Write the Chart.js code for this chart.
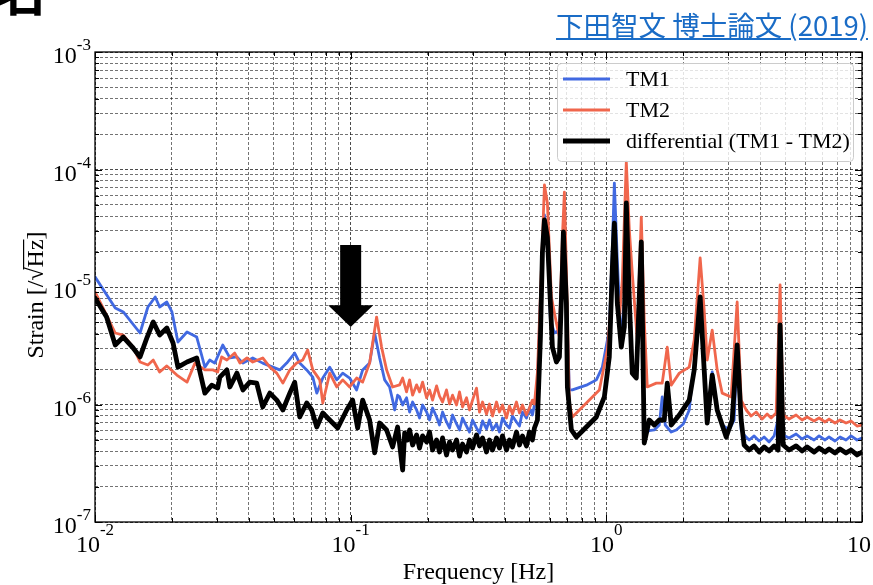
<!DOCTYPE html>
<html>
<head>
<meta charset="utf-8">
<script src="https://cdn.jsdelivr.net/npm/chart.js@4.4.1/dist/chart.umd.min.js"></script>
<style>
  html, body { margin: 0; padding: 0; background: #fff; }
  #wrap { position: relative; width: 873px; height: 585px; overflow: hidden; }
  #myChart { position: absolute; left: 0; top: 0; }
  #frag { position: absolute; left: -6px; top: -37px; font-family: "Noto Sans CJK JP"; font-size: 52px; font-weight: bold; line-height: 1; }
  #ref { position: absolute; right: 5px; top: 4px; font-family: "Noto Sans CJK JP"; font-size: 27.5px; color: #1a6cc6; text-decoration: underline; white-space: nowrap; }
</style>
</head>
<body>
<div id="wrap">
  <canvas id="myChart" width="873" height="585"></canvas>
  <div id="frag">名</div>
  <span id="ref">下田智文 博士論文 (2019)</span>
</div>
<script>
// [frequency Hz, strain 1/sqrt(Hz)]
const tm1Data = [
  [0.0100,1.22e-5],[0.0120,6.63e-6],[0.0129,6.13e-6],[0.0150,4.06e-6],[0.0161,6.76e-6],[0.0172,8.22e-6],
  [0.0179,6.76e-6],[0.0191,7.45e-6],[0.0200,6.13e-6],[0.0211,3.40e-6],[0.0229,4.14e-6],[0.0250,3.75e-6],
  [0.0269,2.08e-6],[0.0281,2.39e-6],[0.0294,2.25e-6],[0.0316,3.21e-6],[0.0337,2.49e-6],[0.0359,2.54e-6],
  [0.0379,2.25e-6],[0.0414,2.49e-6],[0.0453,2.25e-6],[0.0496,2.08e-6],[0.0528,1.97e-6],[0.0562,2.25e-6],
  [0.0604,2.74e-6],[0.0632,2.25e-6],[0.0673,1.97e-6],[0.0711,1.71e-6],[0.0737,1.25e-6],[0.0778,1.68e-6],
  [0.0828,2.08e-6],[0.0882,1.62e-6],[0.0931,1.85e-6],[0.0991,1.68e-6],[0.1055,1.33e-6],[0.1114,1.97e-6],
  [0.1186,2.25e-6],[0.1241,4.06e-6],[0.1298,2.49e-6],[0.1358,1.62e-6],[0.1420,1.41e-6],[0.1459,1.09e-6],
  [0.1486,8.98e-7],[0.1526,1.20e-6],[0.1554,1.16e-6],[0.1597,9.90e-7],[0.1654,1.14e-6],[0.1700,8.63e-7],
  [0.1747,1.05e-6],[0.1811,8.98e-7],[0.1860,7.67e-7],[0.1911,9.90e-7],[0.1982,8.63e-7],[0.2035,7.38e-7],
  [0.2091,9.34e-7],[0.2168,7.83e-7],[0.2226,6.69e-7],[0.2288,8.63e-7],[0.2371,7.10e-7],[0.2436,6.31e-7],
  [0.2503,8.14e-7],[0.2595,6.83e-7],[0.2666,6.07e-7],[0.2739,7.67e-7],[0.2839,6.56e-7],[0.2917,5.83e-7],
  [0.2997,7.38e-7],[0.3106,6.31e-7],[0.3191,5.72e-7],[0.3279,7.24e-7],[0.3399,6.19e-7],[0.3491,7.38e-7],
  [0.3587,6.07e-7],[0.3719,6.83e-7],[0.3819,5.83e-7],[0.3925,7.67e-7],[0.4069,6.69e-7],[0.4179,6.31e-7],
  [0.4294,7.98e-7],[0.4452,7.10e-7],[0.4573,6.56e-7],[0.4698,8.63e-7],[0.4870,7.67e-7],[0.5004,9.34e-7],
  [0.5140,8.14e-7],[0.5233,9.90e-7],[0.5377,1.52e-6],[0.5524,7.75e-6],[0.5727,4.10e-5],
  [0.5882,2.51e-5],[0.6043,5.24e-6],[0.6265,4.06e-6],[0.6553,4.30e-6],[0.6732,1.70e-5],[0.6854,3.06e-5],
  [0.6979,7.75e-6],[0.7170,1.33e-6],[0.7366,1.33e-6],[0.8354,1.46e-6],[0.9141,1.62e-6],[0.9647,2.08e-6],
  [1.027,4.30e-6],[1.055,2.07e-5],[1.075,7.67e-5],[1.104,1.70e-5],[1.144,3.21e-6],[1.176,7.75e-6],
  [1.197,4.10e-5],[1.230,7.75e-6],[1.263,1.97e-6],[1.310,1.68e-6],[1.370,2.07e-5],[1.407,5.50e-7],
  [1.472,6.00e-7],[1.540,6.07e-7],[1.611,6.69e-7],[1.654,1.16e-6],[1.700,6.69e-7],[1.794,5.83e-7],
  [1.877,6.07e-7],[2.000,6.82e-7],[2.110,8.98e-7],[2.168,1.62e-6],[2.247,2.91e-6],[2.328,7.75e-6],
  [2.414,2.39e-6],[2.481,7.38e-7],[2.595,1.89e-6],[2.714,8.98e-7],[2.839,6.69e-7],[3.023,6.07e-7],
  [3.162,7.38e-7],[3.249,2.91e-6],[3.368,6.07e-7],[3.459,5.50e-7],[3.620,4.99e-7],[3.786,5.40e-7],
  [3.961,4.89e-7],[4.142,5.29e-7],[4.332,4.80e-7],[4.532,5.40e-7],[4.656,6.96e-7],[4.783,1.09e-6],
  [4.914,5.50e-7],[5.186,5.19e-7],[5.524,5.61e-7],[5.831,5.09e-7],[6.098,5.40e-7],[6.494,4.99e-7],
  [6.792,5.40e-7],[7.170,4.99e-7],[7.433,5.29e-7],[7.844,4.89e-7],[8.206,5.29e-7],[8.660,4.99e-7],
  [9.060,5.40e-7],[9.561,4.99e-7],[10.0,5.19e-7]
];

const tm2Data = [
  [0.0100,9.07e-6],[0.01075,6.63e-6],[0.0120,4.06e-6],[0.0129,3.90e-6],[0.0141,3.08e-6],[0.0150,2.30e-6],
  [0.0161,2.17e-6],[0.0169,2.39e-6],[0.0179,1.89e-6],[0.0191,2.13e-6],[0.0209,1.78e-6],[0.0229,1.55e-6],
  [0.0246,2.25e-6],[0.0269,1.97e-6],[0.0289,1.97e-6],[0.0302,1.89e-6],[0.0313,2.54e-6],[0.0328,2.39e-6],
  [0.0352,2.74e-6],[0.0369,2.25e-6],[0.0393,2.49e-6],[0.0414,2.30e-6],[0.0453,2.49e-6],[0.0483,2.08e-6],
  [0.0514,1.85e-6],[0.0543,1.52e-6],[0.0578,1.97e-6],[0.0615,2.25e-6],[0.0649,2.39e-6],[0.0679,2.91e-6],
  [0.0711,1.97e-6],[0.0757,1.62e-6],[0.0778,1.03e-6],[0.0828,1.85e-6],[0.0882,1.41e-6],[0.0931,1.62e-6],
  [0.0991,1.41e-6],[0.1055,1.68e-6],[0.1114,1.55e-6],[0.1186,2.25e-6],[0.1263,5.55e-6],[0.1321,3.08e-6],
  [0.1382,1.97e-6],[0.1459,1.41e-6],[0.1554,1.47e-6],[0.1597,1.68e-6],[0.1654,1.28e-6],[0.1700,1.62e-6],
  [0.1747,1.20e-6],[0.1811,1.47e-6],[0.1860,1.28e-6],[0.1911,1.55e-6],[0.1982,1.14e-6],[0.2035,1.33e-6],
  [0.2091,1.09e-6],[0.2168,1.44e-6],[0.2226,1.18e-6],[0.2288,1.05e-6],[0.2371,1.33e-6],[0.2436,1.01e-6],
  [0.2503,1.20e-6],[0.2595,9.90e-7],[0.2666,1.28e-6],[0.2739,9.52e-7],[0.2839,1.14e-6],[0.2917,8.98e-7],
  [0.2997,1.09e-6],[0.3106,1.38e-6],[0.3191,8.63e-7],[0.3279,1.05e-6],[0.3399,8.30e-7],[0.3491,1.01e-6],
  [0.3587,7.98e-7],[0.3719,1.05e-6],[0.3819,8.63e-7],[0.3925,9.90e-7],[0.4069,7.67e-7],[0.4179,9.71e-7],
  [0.4294,8.30e-7],[0.4452,1.05e-6],[0.4573,8.47e-7],[0.4698,9.90e-7],[0.4870,8.14e-7],[0.5004,9.34e-7],
  [0.5140,1.09e-6],[0.5233,1.01e-6],[0.5377,1.89e-6],
  [0.5572,1.40e-5],[0.5727,7.38e-5],[0.5882,5.19e-5],[0.6098,8.22e-6],[0.6378,4.94e-6],[0.6553,3.75e-6],
  [0.6732,2.66e-5],[0.6854,6.43e-5],[0.6979,1.40e-5],[0.7170,1.03e-6],[0.7366,7.83e-7],[0.8354,1.03e-6],
  [0.9390,1.33e-6],[1.009,2.91e-6],[1.046,7.75e-6],[1.075,2.51e-5],[1.124,5.24e-6],[1.155,1.15e-5],
  [1.197,1.16e-4],[1.230,3.06e-5],[1.263,1.32e-5],[1.321,3.54e-6],[1.370,3.94e-5],[1.407,5.24e-6],
  [1.446,1.41e-6],[1.568,1.52e-6],[1.654,1.52e-6],[1.731,3.08e-6],[1.794,1.46e-6],[1.929,1.85e-6],
  [2.110,2.08e-6],[2.207,3.54e-6],[2.328,1.77e-5],[2.414,6.37e-6],[2.481,2.39e-6],[2.595,4.30e-6],
  [2.714,1.97e-6],[2.839,1.25e-6],[3.078,1.16e-6],[3.249,7.45e-6],[3.368,1.09e-6],[3.523,8.98e-7],
  [3.685,7.98e-7],[3.855,8.63e-7],[4.069,7.52e-7],[4.255,8.30e-7],[4.412,7.67e-7],[4.615,8.47e-7],
  [4.783,1.04e-5],[4.914,8.14e-7],[5.186,7.52e-7],[5.524,8.14e-7],[5.831,7.38e-7],[6.098,7.83e-7],
  [6.494,7.24e-7],[6.792,7.67e-7],[7.170,7.10e-7],[7.433,7.52e-7],[7.844,6.96e-7],[8.206,7.38e-7],
  [8.660,6.96e-7],[9.060,7.24e-7],[9.561,6.56e-7],[10.0,6.69e-7]
];

const diffData = [
  [0.0100,8.06e-6],[0.0111,5.55e-6],[0.0120,3.21e-6],[0.0129,3.75e-6],[0.0140,3.08e-6],[0.0150,2.54e-6],
  [0.0160,3.75e-6],[0.0169,5.04e-6],[0.0179,3.90e-6],[0.0191,4.48e-6],[0.0202,3.34e-6],[0.0211,2.08e-6],
  [0.0229,2.30e-6],[0.0250,2.49e-6],[0.0269,1.25e-6],[0.0286,1.46e-6],[0.0302,1.38e-6],[0.0308,1.71e-6],
  [0.0328,1.97e-6],[0.0337,1.41e-6],[0.0359,1.85e-6],[0.0379,1.33e-6],[0.0403,1.55e-6],[0.0429,1.52e-6],
  [0.0453,9.52e-7],[0.0483,1.25e-6],[0.0514,1.09e-6],[0.0543,8.98e-7],[0.0578,1.25e-6],[0.0604,1.55e-6],
  [0.0632,7.83e-7],[0.0673,1.03e-6],[0.0704,8.98e-7],[0.0737,6.43e-7],[0.0778,8.47e-7],[0.0828,7.38e-7],
  [0.0890,6.31e-7],[0.0965,8.98e-7],[0.1018,1.09e-6],[0.1065,6.31e-7],[0.1114,1.09e-6],[0.1186,7.38e-7],
  [0.1241,3.87e-7],[0.1298,6.96e-7],[0.1382,6.07e-7],[0.1459,4.35e-7],[0.1526,6.43e-7],[0.1597,2.77e-7],
  [0.1626,5.72e-7],[0.1669,4.99e-7],[0.1700,6.07e-7],[0.1747,4.52e-7],[0.1811,5.50e-7],[0.1860,4.26e-7],
  [0.1911,5.40e-7],[0.1982,4.80e-7],[0.2035,5.83e-7],[0.2091,4.10e-7],[0.2168,4.99e-7],[0.2226,3.94e-7],
  [0.2288,5.19e-7],[0.2371,3.72e-7],[0.2436,4.80e-7],[0.2503,4.10e-7],[0.2595,4.99e-7],[0.2666,3.64e-7],
  [0.2739,4.61e-7],[0.2839,3.94e-7],[0.2917,4.99e-7],[0.2997,4.26e-7],[0.3106,5.50e-7],[0.3191,4.44e-7],
  [0.3279,5.19e-7],[0.3399,3.94e-7],[0.3491,4.99e-7],[0.3587,4.10e-7],[0.3719,5.19e-7],[0.3819,4.26e-7],
  [0.3925,5.40e-7],[0.4069,4.10e-7],[0.4179,4.99e-7],[0.4294,4.35e-7],[0.4452,5.83e-7],[0.4573,4.52e-7],
  [0.4698,5.40e-7],[0.4870,4.44e-7],[0.5004,5.83e-7],[0.5140,4.99e-7],[0.5233,6.31e-7],[0.5377,7.38e-7],
  [0.5524,3.75e-6],[0.5623,1.95e-5],[0.5727,3.72e-5],
  [0.5882,2.66e-5],[0.6043,7.31e-6],[0.6153,3.08e-6],[0.6378,2.30e-6],[0.6553,2.54e-6],[0.6732,1.40e-5],
  [0.6792,2.94e-5],[0.6979,7.31e-6],[0.7042,1.41e-6],[0.7300,6.07e-7],[0.7636,5.29e-7],[0.8354,6.43e-7],
  [0.9141,7.83e-7],[0.9822,1.16e-6],[1.027,2.54e-6],[1.055,1.40e-5],[1.075,3.50e-5],[1.104,7.31e-6],
  [1.144,3.08e-6],[1.176,4.57e-6],[1.197,5.19e-5],[1.230,7.75e-6],[1.263,1.85e-6],[1.310,1.68e-6],
  [1.370,2.42e-5],[1.407,4.70e-7],[1.472,7.38e-7],[1.540,6.69e-7],[1.611,7.38e-7],[1.685,7.38e-7],
  [1.731,1.52e-6],[1.794,6.69e-7],[1.929,8.14e-7],[2.110,1.09e-6],[2.207,1.97e-6],[2.328,8.22e-6],
  [2.414,1.97e-6],[2.481,6.96e-7],[2.595,1.78e-6],[2.714,8.98e-7],[2.943,5.29e-7],[3.106,7.38e-7],
  [3.249,3.21e-6],[3.368,7.38e-7],[3.459,4.52e-7],[3.620,4.10e-7],[3.786,4.44e-7],[3.961,3.94e-7],
  [4.142,4.35e-7],[4.332,4.02e-7],[4.532,4.44e-7],[4.698,4.10e-7],[4.783,4.75e-6],[4.914,4.52e-7],
  [5.186,4.10e-7],[5.524,4.44e-7],[5.831,4.02e-7],[6.098,4.35e-7],[6.494,3.94e-7],[6.792,4.26e-7],
  [7.170,3.94e-7],[7.433,4.18e-7],[7.844,3.87e-7],[8.206,4.18e-7],[8.660,3.87e-7],[9.060,4.10e-7],
  [9.561,3.72e-7],[10.0,3.94e-7]
];

const seriesLabels = ['TM1', 'TM2', 'differential (TM1 - TM2)'];
const xDecades = [-2, -1, 0, 1];
const yDecades = [-7, -6, -5, -4, -3];
// arrow marking 0.1 Hz
const arrowFreq = 0.1;
const arrowTop = 2.28e-5;
const arrowHeadBase = 7.0e-6;
const arrowTip = 4.57e-6;

const SERIF = '"Liberation Serif", "Times New Roman", serif';
const colors = ['#4169e1', '#f0664c', '#000000'];
const widths = [2.8, 2.8, 4.8];

function toPoints(arr) {
  return arr.map(p => ({ x: p[0], y: p[1] }));
}

function decadeTicks(lo, hi) {
  const ticks = [];
  for (let e = lo; e < hi; e++) {
    for (let m = 1; m <= 9; m++) ticks.push({ value: m * Math.pow(10, e), major: m === 1 });
  }
  ticks.push({ value: Math.pow(10, hi), major: true });
  return ticks;
}

function drawPower(ctx, e, x, y, align, supRise) {
  ctx.font = '24px ' + SERIF;
  const bw = ctx.measureText('10').width;
  const sup = e === 1 ? '' : String(e);
  ctx.font = '17px ' + SERIF;
  const sw = ctx.measureText(sup).width;
  let left = align === 'center' ? x - (bw + sw) / 2 : x - bw - sw;
  if (e === 1 && align === 'center') left = x - 15;
  ctx.textAlign = 'left';
  ctx.textBaseline = 'alphabetic';
  ctx.font = '24px ' + SERIF;
  ctx.fillText('10', left, y);
  ctx.font = '17px ' + SERIF;
  ctx.fillText(sup, left + bw, y - supRise);
}

const decor = {
  id: 'decor',
  afterDraw(chart) {
    const ctx = chart.ctx, a = chart.chartArea;
    const xs = chart.scales.x, ys = chart.scales.y;
    ctx.save();

    // inward ticks
    ctx.strokeStyle = '#000';
    ctx.lineWidth = 1;
    ctx.beginPath();
    xs.ticks.forEach(t => {
      const px = Math.round(xs.getPixelForValue(t.value)) + 0.5;
      const len = t.major ? 7 : 4;
      ctx.moveTo(px, a.bottom); ctx.lineTo(px, a.bottom - len);
      ctx.moveTo(px, a.top); ctx.lineTo(px, a.top + len);
    });
    ys.ticks.forEach(t => {
      const py = Math.round(ys.getPixelForValue(t.value)) + 0.5;
      const len = t.major ? 7 : 4;
      ctx.moveTo(a.left, py); ctx.lineTo(a.left + len, py);
      ctx.moveTo(a.right, py); ctx.lineTo(a.right - len, py);
    });
    ctx.stroke();

    // frame
    ctx.lineWidth = 1.3;
    ctx.strokeRect(a.left, a.top, a.right - a.left, a.bottom - a.top);

    // tick labels
    ctx.fillStyle = '#000';
    xDecades.forEach(e => {
      drawPower(ctx, e, xs.getPixelForValue(Math.pow(10, e)), a.bottom + 30, 'center', 17);
    });
    yDecades.forEach(e => {
      drawPower(ctx, e, a.left - 4, ys.getPixelForValue(Math.pow(10, e)) + 11, 'right', 13);
    });

    // axis titles
    ctx.font = '24px ' + SERIF;
    ctx.textAlign = 'center';
    ctx.textBaseline = 'alphabetic';
    ctx.fillText('Frequency [Hz]', (a.left + a.right) / 2, 579);

    ctx.save();
    ctx.translate(43, 295);
    ctx.rotate(-Math.PI / 2);
    ctx.textAlign = 'left';
    const parts = ['Strain [/', '\u221A', 'Hz', ']'];
    const pw = parts.map(s => ctx.measureText(s).width);
    let cx = -pw.reduce((s, v) => s + v, 0) / 2;
    const rootTop = ctx.measureText('\u221A').actualBoundingBoxAscent;
    parts.forEach((s, i) => {
      ctx.fillText(s, cx, 0);
      if (i === 2) {
        ctx.lineWidth = 1.2;
        ctx.beginPath();
        ctx.moveTo(cx - 2, -rootTop + 0.6);
        ctx.lineTo(cx + pw[i], -rootTop + 0.6);
        ctx.stroke();
      }
      cx += pw[i];
    });
    ctx.restore();

    // arrow
    const ax = xs.getPixelForValue(arrowFreq);
    const yTop = ys.getPixelForValue(arrowTop);
    const yBase = ys.getPixelForValue(arrowHeadBase);
    const yTip = ys.getPixelForValue(arrowTip);
    ctx.fillStyle = '#000';
    ctx.beginPath();
    ctx.moveTo(ax - 10.5, yTop);
    ctx.lineTo(ax + 10.5, yTop);
    ctx.lineTo(ax + 10.5, yBase);
    ctx.lineTo(ax + 22.5, yBase);
    ctx.lineTo(ax, yTip);
    ctx.lineTo(ax - 22.5, yBase);
    ctx.lineTo(ax - 10.5, yBase);
    ctx.closePath();
    ctx.fill();

    // legend
    ctx.beginPath();
    ctx.roundRect(557.5, 63.5, 296, 98, 4);
    ctx.fillStyle = 'rgba(255,255,255,0.8)';
    ctx.fill();
    ctx.strokeStyle = '#cccccc';
    ctx.lineWidth = 1;
    ctx.stroke();
    ctx.font = '22px ' + SERIF;
    ctx.textAlign = 'left';
    ctx.textBaseline = 'middle';
    seriesLabels.forEach((lab, i) => {
      const ly = 79 + i * 31;
      ctx.strokeStyle = colors[i];
      ctx.lineWidth = widths[i];
      ctx.beginPath();
      ctx.moveTo(563, ly);
      ctx.lineTo(610, ly);
      ctx.stroke();
      ctx.fillStyle = '#000';
      ctx.fillText(lab, 626, ly + 1);
    });

    ctx.restore();
  }
};

const gridColor = c => (c.tick && c.tick.major) ? 'rgba(0,0,0,0.7)' : 'rgba(0,0,0,0.55)';

new Chart(document.getElementById('myChart'), {
  type: 'line',
  data: {
    datasets: [
      { label: seriesLabels[0], data: toPoints(tm1Data), borderColor: colors[0], borderWidth: widths[0], order: 2 },
      { label: seriesLabels[1], data: toPoints(tm2Data), borderColor: colors[1], borderWidth: widths[1], order: 1 },
      { label: seriesLabels[2], data: toPoints(diffData), borderColor: colors[2], borderWidth: widths[2], order: 0 }
    ]
  },
  options: {
    responsive: false,
    animation: false,
    devicePixelRatio: 1,
    layout: { padding: { left: 95, right: 11, top: 52, bottom: 63 } },
    elements: {
      point: { radius: 0 },
      line: { tension: 0, fill: false, borderJoinStyle: 'round', borderCapStyle: 'round' }
    },
    plugins: { legend: { display: false }, tooltip: { enabled: false } },
    scales: {
      x: {
        type: 'logarithmic', min: 0.01, max: 10,
        afterBuildTicks: s => { s.ticks = decadeTicks(-2, 1); },
        ticks: { display: false, autoSkip: false },
        grid: { drawTicks: false, color: gridColor, lineWidth: 1 },
        border: { display: false, dash: [3, 2] }
      },
      y: {
        type: 'logarithmic', min: 1e-7, max: 1e-3,
        afterBuildTicks: s => { s.ticks = decadeTicks(-7, -3); },
        ticks: { display: false, autoSkip: false },
        grid: { drawTicks: false, color: gridColor, lineWidth: 1 },
        border: { display: false, dash: [3, 2] }
      }
    }
  },
  plugins: [decor]
});
</script>
</body>
</html>
